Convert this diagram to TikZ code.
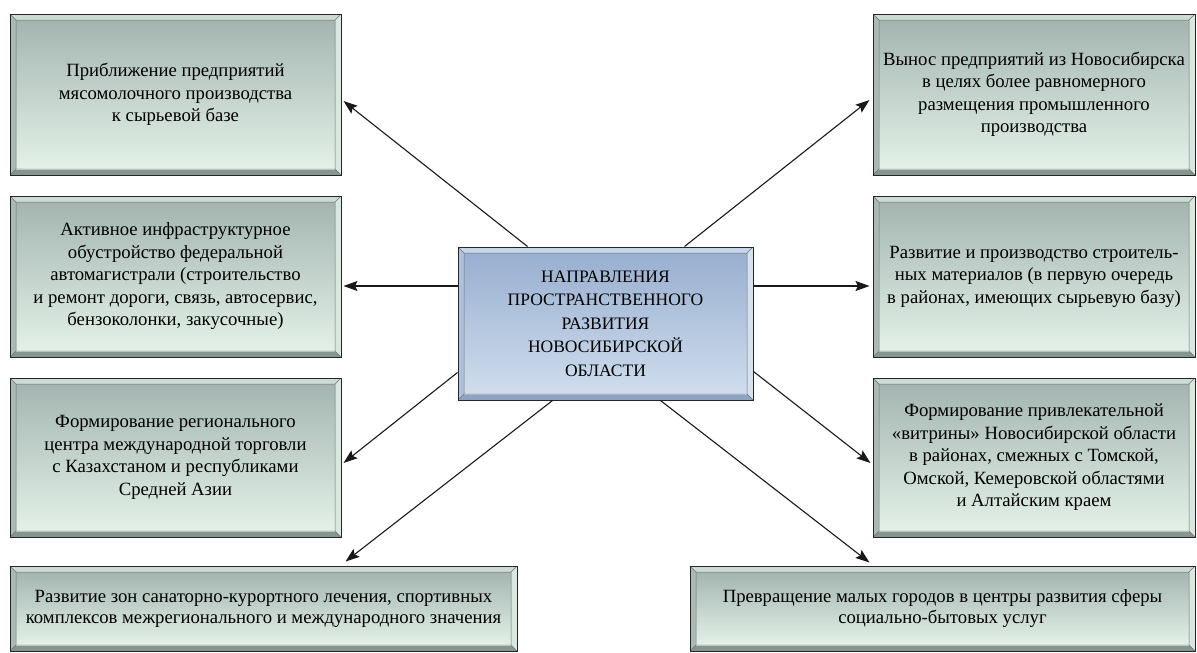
\documentclass[tikz,border=0pt]{standalone}
\usepackage{fontspec}
\setmainfont{Liberation Serif}
\usetikzlibrary{arrows.meta,calc}

\definecolor{greenTop}{HTML}{A4B5B1}
\definecolor{greenBot}{HTML}{E3F1E7}
\definecolor{greenFaceT}{HTML}{CCDCD4}
\definecolor{greenFaceL}{HTML}{A9BAB4}
\definecolor{greenFaceR}{HTML}{D8E8DE}
\definecolor{greenFaceB}{HTML}{84968F}
\definecolor{blueTop}{HTML}{99AFD0}
\definecolor{blueBot}{HTML}{CFDDED}
\definecolor{blueFaceT}{HTML}{C6D6EA}
\definecolor{blueFaceL}{HTML}{AEC2DD}
\definecolor{blueFaceR}{HTML}{D4E1EF}
\definecolor{blueFaceB}{HTML}{8CA3C4}

\tikzset{
  bevel/.style n args={6}{draw=black!85, line width=1pt, align=center,
    inner sep=0pt, font=\fontsize{18.7}{22.5}\selectfont,
    path picture={
      \path (path picture bounding box.north west) coordinate (bvNW)
      (path picture bounding box.north east) coordinate (bvNE)
      (path picture bounding box.south east) coordinate (bvSE)
      (path picture bounding box.south west) coordinate (bvSW);
      \path ([shift={(6pt,-6pt)}]bvNW) coordinate (bvInNW)
      ([shift={(-6pt,-6pt)}]bvNE) coordinate (bvInNE)
      ([shift={(-6pt,6pt)}]bvSE) coordinate (bvInSE)
      ([shift={(6pt,6pt)}]bvSW) coordinate (bvInSW);
      \fill[#1] (bvNW) -- (bvNE) -- (bvInNE) -- (bvInNW) -- cycle;
      \fill[#2] (bvNW) -- (bvInNW) -- (bvInSW) -- (bvSW) -- cycle;
      \fill[#3] (bvNE) -- (bvSE) -- (bvInSE) -- (bvInNE) -- cycle;
      \fill[#4] (bvSW) -- (bvInSW) -- (bvInSE) -- (bvSE) -- cycle;
      \shade[top color=#5, bottom color=#6] (bvInNW) rectangle (bvInSE);
      \draw[black!55, line width=0.5pt] (bvInNW) rectangle (bvInSE)
      (bvNW) -- (bvInNW) (bvNE) -- (bvInNE) (bvSE) -- (bvInSE)
      (bvSW) -- (bvInSW);
    }},
  greenbox/.style={bevel={greenFaceT}{greenFaceL}{greenFaceR}{greenFaceB}{greenTop}{greenBot}},
  bluebox/.style={bevel={blueFaceT}{blueFaceL}{blueFaceR}{blueFaceB}{blueTop}{blueBot}},
  sidebox/.style={greenbox, minimum width=331pt, minimum height=161pt},
  rightbox/.style={greenbox, minimum width=322pt, minimum height=161pt},
  wide/.style={greenbox, minimum width=507pt, minimum height=85pt,
    font=\fontsize{18.7}{21}\selectfont},
  link/.style={line width=1.1pt, black!90,
    -{Stealth[length=14pt,width=10pt,inset=2.5pt]}}
}

\begin{document}
\begin{tikzpicture}[x=1pt,y=1pt]
  \useasboundingbox[fill=white] (0,0) rectangle (1197,-653);

  \node (directionsCentre) [bluebox, minimum width=295pt,
  minimum height=153pt, font=\fontsize{17.5}{23.5}\selectfont] at
  (605.5,-323.5) {НАПРАВЛЕНИЯ\\ПРОСТРАНСТВЕННОГО\\РАЗВИТИЯ\\
    НОВОСИБИРСКОЙ\\ОБЛАСТИ};

  \node (dairyPlants) [sidebox] at (175.5,-94.5) {Приближение
    предприятий\\мясомолочного производства\\к сырьевой базе};
  \node (roadService) [sidebox] at (175.5,-276.5) {Активное
    инфраструктурное\\обустройство федеральной\\автомагистрали
    (строительство\\и ремонт дороги, связь, автосервис,\\
    бензоколонки, закусочные)};
  \node (tradeCentre) [sidebox, minimum height=159pt] at
  (175.5,-457.5) {Формирование регионального\\центра международной
    торговли\\с Казахстаном и республиками\\Средней Азии};
  \node (resortZones) [wide] at (263.5,-608.5) {Развитие зон
    санаторно-курортного лечения, спортивных\\комплексов
    межрегионального и международного значения};

  \node (industryMove) [rightbox] at (1034,-94.5) {Вынос предприятий
    из Новосибирска\\в целях более равномерного\\размещения
    промышленного\\производства};
  \node (buildMaterials) [rightbox] at (1034,-276.5) {Развитие и
    производство строитель-\\ных материалов (в первую очередь\\в
    районах, имеющих сырьевую базу)};
  \node (showcaseRegion) [rightbox, minimum height=159pt] at
  (1034,-457.5) {Формирование привлекательной\\«витрины»
    Новосибирской области\\в районах, смежных с Томской,\\Омской,
    Кемеровской областями\\и Алтайским краем};
  \node (smallTowns) [wide, minimum width=505pt] at (942.5,-608.5)
  {Превращение малых городов в центры развития сферы\\
    социально-бытовых услуг};

  \draw[link] ([xshift=70pt]directionsCentre.north west) --
  ([xshift=2pt,yshift=-6.5pt]dairyPlants.east);
  \draw[link] ([yshift=37.5pt]directionsCentre.west) --
  ([xshift=2pt,yshift=-9.5pt]roadService.east);
  \draw[link] ([yshift=-49pt]directionsCentre.west) --
  ([xshift=2pt,yshift=-5.5pt]tradeCentre.east);
  \draw[link] ([xshift=95pt]directionsCentre.south west) --
  ([xshift=-172pt,yshift=4pt]resortZones.north east);

  \draw[link] ([xshift=-69pt]directionsCentre.north east) --
  ([xshift=-3pt,yshift=-5.5pt]industryMove.west);
  \draw[link] ([yshift=37.5pt]directionsCentre.east) --
  ([xshift=-3pt,yshift=-9.5pt]buildMaterials.west);
  \draw[link] ([yshift=-48pt]directionsCentre.east) --
  ([xshift=-2pt,yshift=-5.5pt]showcaseRegion.west);
  \draw[link] ([xshift=-93pt]directionsCentre.south east) --
  ([xshift=180pt,yshift=3pt]smallTowns.north west);
\end{tikzpicture}
\end{document}
